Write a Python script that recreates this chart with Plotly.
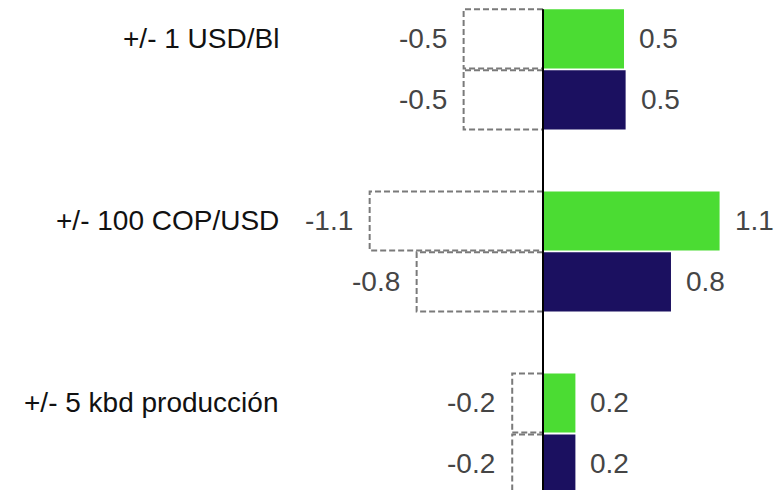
import plotly.graph_objects as go

categories = ["+/- 1 USD/Bl", "+/- 100 COP/USD", "+/- 5 kbd producción"]
green_up = [0.50, 1.09, 0.20]
navy_up = [0.51, 0.79, 0.20]
green_down = [-0.49, -1.07, -0.19]
navy_down = [-0.49, -0.78, -0.19]

GREEN = "#4bdc33"
NAVY = "#1b1060"
DASH = "#7a7a7a"
VAL_COLOR = "#454545"
FONT = "Liberation Sans, Arial, sans-serif"

W, H = 775, 482          # page body has an 8px margin
ZERO_PX = 535            # pixel of x = 0 inside the figure
S = 162.0                # pixels per unit
pitch = 1.0
offset = 0.335
bw = 0.325
Y_TOP, Y_BOTTOM = -0.170, 2.478

g_pos = [i * pitch for i in range(len(categories))]
n_pos = [p + offset for p in g_pos]

fig = go.Figure()

fig.add_trace(go.Bar(y=g_pos, x=green_up, orientation="h", width=bw,
                     marker=dict(color=GREEN, line=dict(width=0)), showlegend=False))
fig.add_trace(go.Bar(y=n_pos, x=navy_up, orientation="h", width=bw,
                     marker=dict(color=NAVY, line=dict(width=0)), showlegend=False))

# negative bars: white fill with dashed grey outline
for ys, vals in ((g_pos, green_down), (n_pos, navy_down)):
    for yc, v in zip(ys, vals):
        y0, y1 = yc - bw / 2, yc + bw / 2
        fig.add_trace(go.Scatter(x=[0, v, v, 0, 0], y=[y0, y0, y1, y1, y0],
                                 mode="lines", fill="toself", fillcolor="white",
                                 line=dict(color=DASH, width=2, dash="6px,3px"),
                                 hoverinfo="skip", showlegend=False))

annotations = []
for ys, ups, downs in ((g_pos, green_up, green_down), (n_pos, navy_up, navy_down)):
    for yc, u, d in zip(ys, ups, downs):
        annotations.append(dict(x=u, y=yc, xref="x", yref="y", text=f"{u:.1f}",
                                showarrow=False, xanchor="left", xshift=13,
                                font=dict(size=28, color=VAL_COLOR, family=FONT)))
        annotations.append(dict(x=d, y=yc, xref="x", yref="y", text=f"{d:.1f}",
                                showarrow=False, xanchor="right", xshift=-15,
                                font=dict(size=28, color=VAL_COLOR, family=FONT)))
for yc, c in zip(g_pos, categories):
    annotations.append(dict(x=273 / W, y=yc, xref="paper", yref="y", text=c,
                            showarrow=False, xanchor="right",
                            font=dict(size=28, color="#111111", family=FONT)))

fig.update_layout(
    width=W, height=H,
    margin=dict(l=0, r=0, t=0, b=0),
    paper_bgcolor="white", plot_bgcolor="white",
    barmode="overlay",
    annotations=annotations,
    xaxis=dict(range=[-ZERO_PX / S, (W - ZERO_PX) / S], showgrid=False, zeroline=False,
               showticklabels=False, ticks=""),
    yaxis=dict(range=[Y_BOTTOM, Y_TOP], showgrid=False, zeroline=False,
               showticklabels=False, ticks=""),
    shapes=[dict(type="line", xref="x", yref="y", x0=0, x1=0,
                 y0=g_pos[0] - bw / 2, y1=Y_BOTTOM,
                 line=dict(color="black", width=2), layer="above")],
)

fig.write_html("out.html")
